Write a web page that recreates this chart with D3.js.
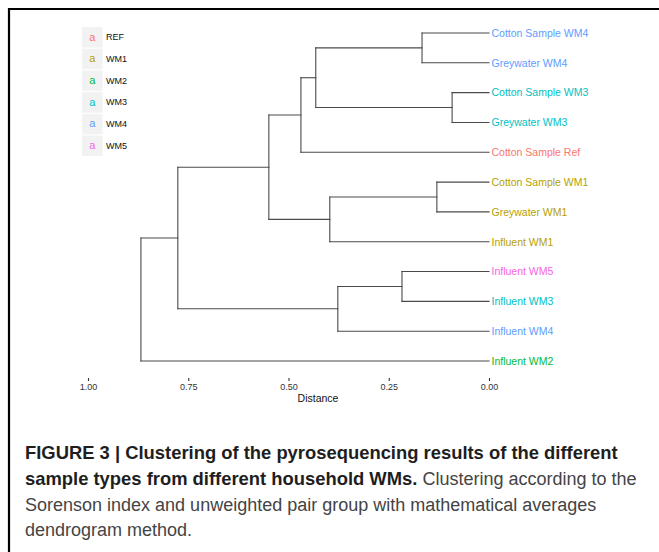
<!DOCTYPE html>
<html>
<head>
<meta charset="utf-8">
<script src="https://cdn.jsdelivr.net/npm/d3@7"></script>
<style>
  html, body { margin: 0; padding: 0; background: #fff; }
  svg { display: block; }
</style>
</head>
<body>
<svg id="chart" width="659" height="552"></svg>
<script>
// ---- data ----
const leafLabels = ["Cotton Sample WM4", "Greywater WM4", "Cotton Sample WM3", "Greywater WM3",
  "Cotton Sample Ref", "Cotton Sample WM1", "Greywater WM1", "Influent WM1",
  "Influent WM5", "Influent WM3", "Influent WM4", "Influent WM2"];
const leafGroups = ["WM4", "WM4", "WM3", "WM3", "REF", "WM1", "WM1", "WM1", "WM5", "WM3", "WM4", "WM2"];
// hclust-style merges: negative = leaf (1-based), positive = earlier merge (1-based)
const mergeLeft   = [-3, -6, -1, -9, 4, 2, 3, 7, 8, 9, 10];
const mergeRight  = [-4, -7, -2, -10, -11, -8, 1, -5, 6, 5, -12];
const mergeHeight = [0.092, 0.130, 0.167, 0.217, 0.377, 0.397, 0.432, 0.469, 0.549, 0.776, 0.868];
const groupNames  = ["REF", "WM1", "WM2", "WM3", "WM4", "WM5"];
const groupColors = ["#F8766D", "#B79F00", "#00BA38", "#00BFC4", "#619CFF", "#F564E3"];
const tickValues  = [0, 0.25, 0.5, 0.75, 1];

const svg = d3.select("#chart");
const color = d3.scaleOrdinal().domain(groupNames).range(groupColors);
const x = d3.scaleLinear().domain([0, 1]).range([489, 88]);
const y = d3.scalePoint().domain(d3.range(leafLabels.length)).range([33, 361]);

// frame
svg.append("path").attr("d", "M9,552 V9 H659").attr("fill", "none")
  .attr("stroke", "#000").attr("stroke-width", 2.2);

// compute node positions
const nodes = [];
function pos(ref) {
  if (ref < 0) return { x: x(0), y: y(-ref - 1) };
  return nodes[ref - 1];
}
const segs = [];
mergeHeight.forEach((h, i) => {
  const a = pos(mergeLeft[i]), b = pos(mergeRight[i]);
  const nx = x(h);
  const ny = (a.y + b.y) / 2;
  nodes.push({ x: nx, y: ny });
  segs.push([[nx, a.y], [a.x, a.y]]);
  segs.push([[nx, b.y], [b.x, b.y]]);
  segs.push([[nx, a.y], [nx, b.y]]);
});

svg.append("g").selectAll("line").data(segs).join("line")
  .attr("x1", d => d[0][0]).attr("y1", d => d[0][1])
  .attr("x2", d => d[1][0]).attr("y2", d => d[1][1])
  .attr("stroke", "#4a4a4a").attr("stroke-width", 1.1).attr("stroke-linecap", "square");

// leaf labels
svg.append("g").selectAll("text").data(leafLabels).join("text")
  .attr("x", x(0) + 2.5).attr("y", (d, i) => y(i)).attr("dy", "0.36em")
  .attr("font-family", "Liberation Sans, Arial, sans-serif").attr("font-size", 10.5)
  .attr("fill", (d, i) => color(leafGroups[i]))
  .text(d => d);

// axis
const axis = svg.append("g").attr("transform", "translate(0,378)")
  .call(d3.axisBottom(x).tickValues(tickValues).tickFormat(d3.format(".2f")).tickSize(3).tickPadding(3));
axis.select(".domain").remove();
axis.selectAll(".tick line").attr("stroke", "#333").attr("stroke-width", 1.1);
axis.selectAll(".tick text").attr("fill", "#333").attr("font-size", 9)
  .attr("font-family", "Liberation Sans, Arial, sans-serif");
svg.append("text").attr("x", 318).attr("y", 402).attr("text-anchor", "middle")
  .attr("font-family", "Liberation Sans, Arial, sans-serif").attr("font-size", 10.5)
  .attr("fill", "#111").text("Distance");

// legend
const leg = svg.append("g").selectAll("g").data(groupNames).join("g")
  .attr("transform", (d, i) => `translate(82,${27 + i * 21.7})`);
leg.append("rect").attr("width", 20.5).attr("height", 20.5).attr("fill", "#f2f2f2");
leg.append("text").attr("x", 10.25).attr("y", 10.25).attr("dy", "0.3em")
  .attr("text-anchor", "middle").attr("font-family", "Liberation Sans, Arial, sans-serif")
  .attr("font-size", 11).attr("fill", d => color(d)).text("a");
leg.append("text").attr("x", 24).attr("y", 10.25).attr("dy", "0.35em")
  .attr("font-family", "Liberation Sans, Arial, sans-serif").attr("font-size", 9)
  .attr("fill", "#111").text(d => d);

// caption
const capLines = [
  [["FIGURE 3 | Clustering of the pyrosequencing results of the different", true]],
  [["sample types from different household WMs.", true], [" Clustering according to the", false]],
  [["Sorenson index and unweighted pair group with mathematical averages", false]],
  [["dendrogram method.", false]]
];
const cap = svg.append("g").attr("font-family", "Liberation Sans, Arial, sans-serif");
cap.selectAll("text").data(capLines).join("text")
  .attr("x", 25).attr("y", (d, i) => 459 + i * 25.8)
  .selectAll("tspan").data(d => d).join("tspan")
  .attr("font-weight", d => d[1] ? "bold" : "normal")
  .attr("font-size", d => d[1] ? 18.4 : 18)
  .attr("fill", d => d[1] ? "#1e1e1e" : "#444")
  .text(d => d[0]);
</script>
</body>
</html>
